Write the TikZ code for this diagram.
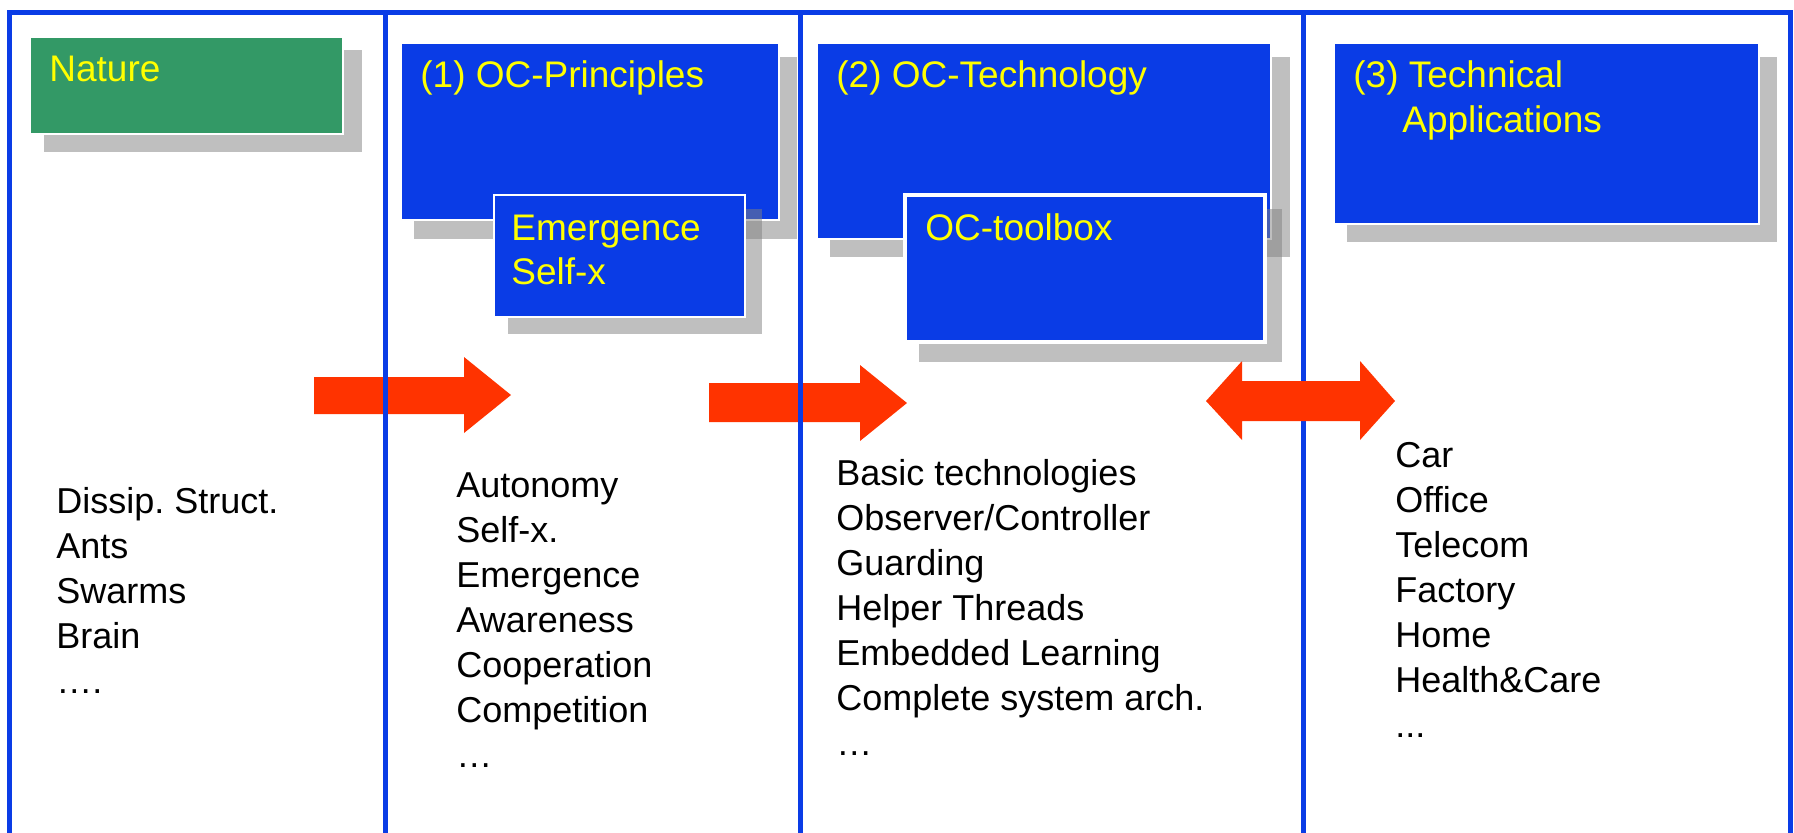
\documentclass[tikz,border=0pt]{standalone}
\usepackage{fontspec}
\setmainfont{Liberation Sans}
\frenchspacing
\definecolor{frameblue}{RGB}{10,60,230}
\definecolor{boxblue}{RGB}{10,60,230}
\definecolor{natgreen}{RGB}{51,153,102}
\definecolor{arrred}{RGB}{255,51,0}
\definecolor{shadowgray}{RGB}{128,128,128}
\definecolor{labelyellow}{RGB}{255,255,0}
\begin{document}
\begin{tikzpicture}[x=0.5pt,y=-0.5pt,
  shadowbox/.style={fill=shadowgray, fill opacity=0.5, draw=none},
  bluebox/.style={fill=boxblue, draw=white, line width=0.6pt},
  greenbox/.style={fill=natgreen, draw=white, line width=0.6pt},
  head/.style={anchor=base west, inner sep=0pt, text=labelyellow, font=\fontsize{18.5}{22.5}\selectfont},
  listtext/.style={anchor=base west, inner sep=0pt, align=left, font=\fontsize{18}{22.5}\selectfont},
  frameline/.style={draw=frameblue, line width=2.5pt},
  blockarrow/.style={fill=arrred, draw=none}]
\useasboundingbox (0,0) rectangle (1794,832);

% block arrows under the frame
\path[blockarrow] (314,377) -- (464,377) -- (464,357) -- (511,395) -- (464,433) -- (464,414) -- (314,414) -- cycle;
\path[blockarrow] (709,383) -- (860,383) -- (860,365) -- (907,403) -- (860,441) -- (860,422) -- (709,422) -- cycle;

% frame
\draw[frameline] (9.5,840) -- (9.5,12) -- (1790,12) -- (1790,840);
\draw[frameline] (385,12) -- (385,840);
\draw[frameline] (800,12) -- (800,840);
\draw[frameline] (1303,12) -- (1303,840);

% double arrow over the frame
\path[blockarrow] (1206,401) -- (1242,361) -- (1242,381) -- (1360,381) -- (1360,361) -- (1395,401) -- (1360,440) -- (1360,421) -- (1242,421) -- (1242,440) -- cycle;

% Nature
\path[shadowbox] (44,50) rectangle (362,152);
\path[greenbox] (30,37) rectangle (343,134);
\node[head] (nature) at (49,81) {Nature};

% (1) OC-Principles
\path[shadowbox] (414,57) rectangle (797,239);
\path[bluebox] (401,43) rectangle (779,220);
\node[head] (principles) at (420,87) {(1) OC-Principles};
\path[shadowbox] (508,209) rectangle (762,334);
\path[bluebox, line width=1.2pt] (494,195) rectangle (745,317);
\node[head] (emergence) at (511,240) {Emergence};
\node[head] (selfx) at (511,284) {Self-x};

% (2) OC-Technology
\path[shadowbox] (830,57) rectangle (1290,257);
\path[bluebox] (817,43) rectangle (1271,239);
\node[head] (technology) at (836,87) {(2) OC-Technology};
\path[shadowbox] (919,209) rectangle (1282,362);
\path[bluebox, line width=2pt] (905,195) rectangle (1265,342);
\node[head] (toolbox) at (925,240) {OC-toolbox};

% (3) Technical Applications
\path[shadowbox] (1347,57) rectangle (1777,242);
\path[bluebox] (1334,43) rectangle (1759,224);
\node[head] (technical) at (1353,87) {(3) Technical};
\node[head] (applications) at (1402,132) {Applications};

% lists (anchored at the baseline of their last line)
\node[listtext] (naturelist) at (56,693) {Dissip. Struct.\\Ants\\Swarms\\Brain\\….};
\node[listtext] (principleslist) at (456,767) {Autonomy\\Self-x.\\Emergence\\Awareness\\Cooperation\\Competition\\…};
\node[listtext] (technologylist) at (836,755) {Basic technologies\\Observer/Controller\\Guarding\\Helper Threads\\Embedded Learning\\Complete system arch.\\…};
\node[listtext] (applicationslist) at (1395,737) {Car\\Office\\Telecom\\Factory\\Home\\Health\&Care\\...};
\end{tikzpicture}
\end{document}
